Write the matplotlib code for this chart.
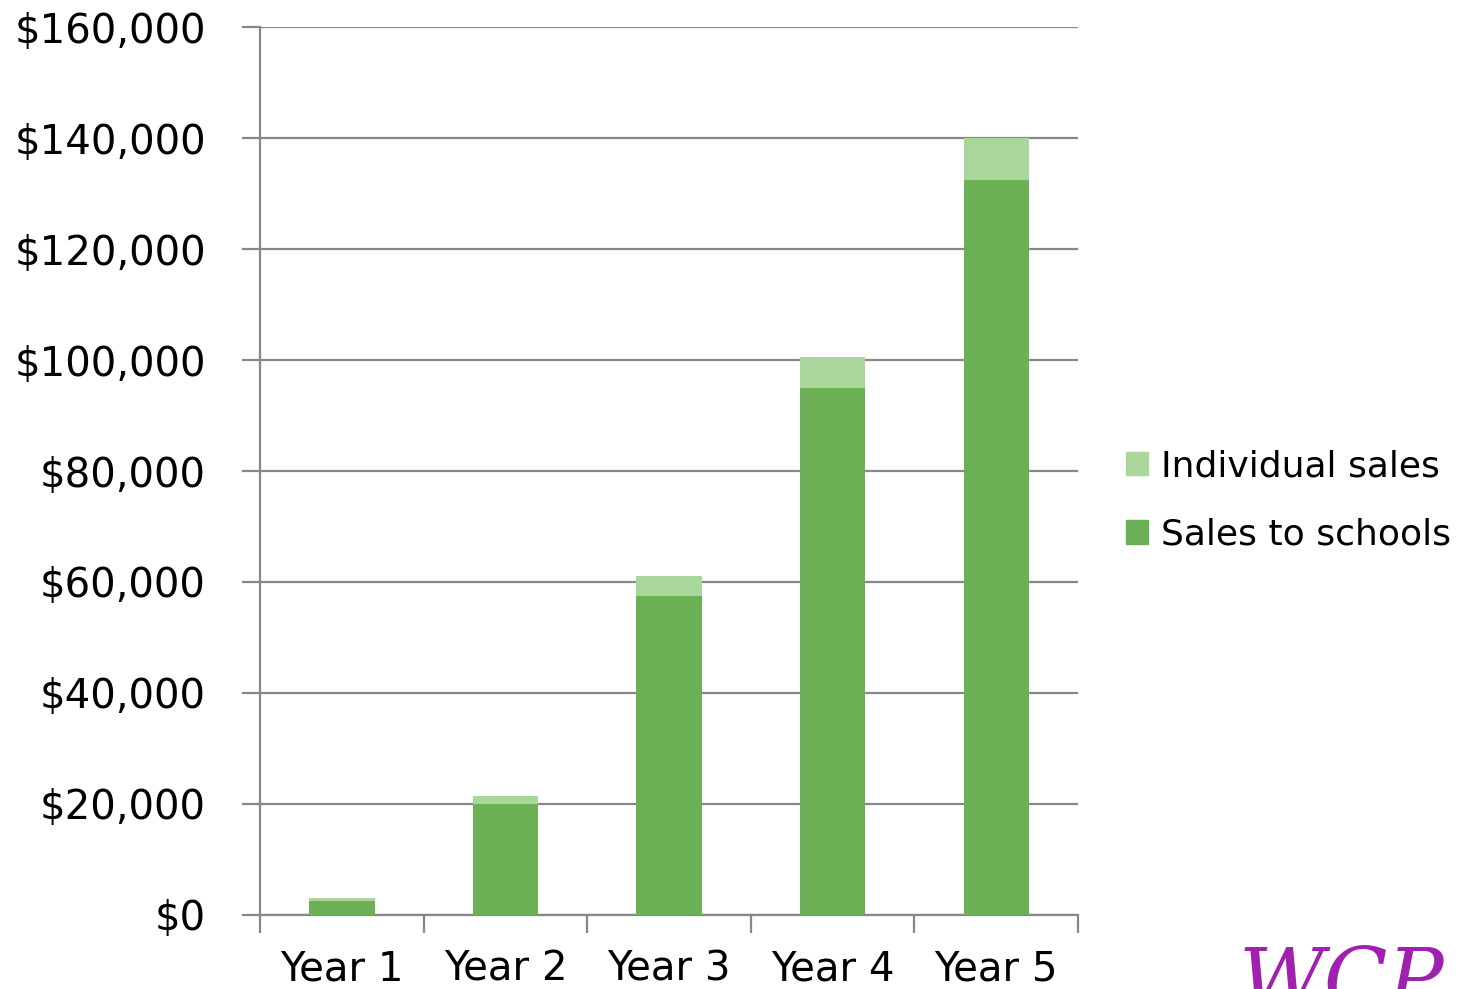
import matplotlib
matplotlib.use("Agg")
import matplotlib.pyplot as plt
from matplotlib.patches import Patch
from matplotlib.ticker import FuncFormatter, FixedLocator
import numpy as np

years = ["Year 1", "Year 2", "Year 3", "Year 4", "Year 5"]
sales_to_schools = [2500, 20000, 57500, 95000, 132500]
individual_sales = [450, 1400, 3500, 5500, 7500]

dark_green = "#6cb055"
light_green = "#a9d79b"
grid_gray = "#888888"

plt.rcParams["font.family"] = ["DejaVu Sans"]

fig = plt.figure(figsize=(14.66, 9.89), dpi=100)
ax = fig.add_axes([0.1774, 0.0752, 0.5580, 0.8971])

x = np.arange(len(years))
ax.bar(x, sales_to_schools, width=0.4, color=dark_green, zorder=3)
ax.bar(x, individual_sales, width=0.4, bottom=sales_to_schools, color=light_green, zorder=3)

ax.set_xlim(-0.5, 4.5)
ax.set_ylim(0, 160000)
ax.set_yticks(np.arange(0, 160001, 20000))
ax.yaxis.set_major_formatter(FuncFormatter(lambda v, p: "${:,.0f}".format(v)))
ax.yaxis.grid(True, color=grid_gray, linewidth=1.6, zorder=0)

# category labels centred, tick marks on category boundaries
ax.set_xticks(x)
ax.set_xticklabels(years)
ax.xaxis.set_minor_locator(FixedLocator(np.arange(-0.5, 5, 1.0)))
ax.tick_params(axis="x", which="major", length=0, pad=25, labelsize=29)
ax.tick_params(axis="x", which="minor", length=13, width=1.6, color=grid_gray, direction="out")
ax.tick_params(axis="y", length=13, width=1.6, color=grid_gray, labelsize=29, pad=26)

for side in ["top", "right"]:
    ax.spines[side].set_visible(False)
ax.spines["left"].set_color(grid_gray)
ax.spines["left"].set_linewidth(1.6)
ax.spines["bottom"].set_color(grid_gray)
ax.spines["bottom"].set_linewidth(1.6)

handles = [Patch(color=light_green, label="Individual sales"),
           Patch(color=dark_green, label="Sales to schools")]
fig.legend(handles=handles, loc="center left", bbox_to_anchor=(0.763, 0.494),
           frameon=False, fontsize=26, handlelength=0.62, handleheight=0.62,
           handletextpad=0.35, labelspacing=0.95, borderaxespad=0, borderpad=0.2)

# partial logo in the corner
fig.text(0.845, -0.035, "WCP", color="#a020b0", fontsize=60, style="italic",
         family="DejaVu Serif", ha="left", va="bottom")

fig.savefig("out.png", dpi=100)
